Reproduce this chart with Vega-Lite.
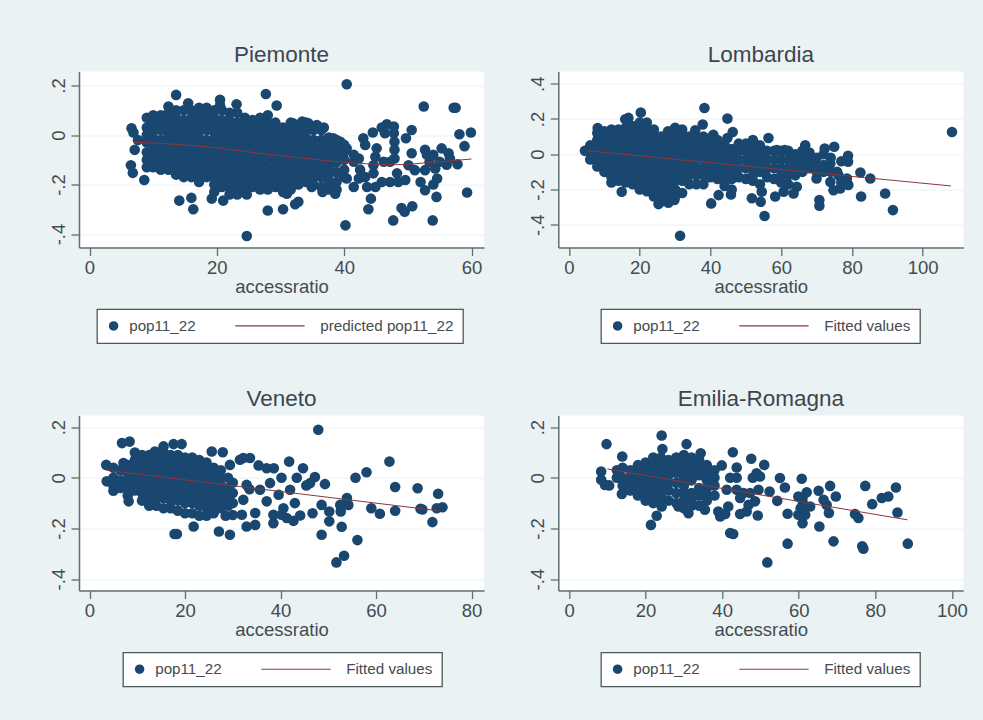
{"$schema":"https://vega.github.io/schema/vega-lite/v6.json","background":"#eaf2f3","padding":{"left":49,"top":43.5,"right":15,"bottom":33.5},"bounds":"flush",
"config":{"font":"Liberation Sans","view":{"fill":"white","stroke":null},"axis":{"grid":true,"gridColor":"#eaf2f3","gridWidth":1,"domainColor":"#5f6f6f","domainWidth":1.5,"tickColor":"#5f6f6f","tickWidth":1.3,"tickSize":8,"labelColor":"#444c50","labelFont":"Liberation Sans","labelFontSize":18.5,"labelPadding":3,"titlePadding":0,"titleColor":"#444c50","titleFont":"Liberation Sans","titleFontSize":18.5,"titleFontWeight":"normal"},"title":{"fontSize":22.5,"fontWeight":"normal","color":"#3c4650","font":"Liberation Sans","offset":5.5},"legend":{"orient":"none","direction":"horizontal","columns":2,"title":null,"labelFont":"Liberation Sans","labelFontSize":15.2,"labelColor":"#444c50","fillColor":"white","strokeColor":"#4a5a5a","strokeWidth":1.3,"padding":9,"symbolSize":90,"symbolStrokeWidth":0,"labelOffset":8}},
"columns":2,"spacing":{"row":168,"column":74.3},
"resolve":{"scale":{"color":"independent","shape":"independent"},"legend":{"color":"independent","shape":"independent"}},
"concat":[
{"title":"Piemonte","width":405,"height":176,"data":{"values":[
{"x":40.4,"y":0.205},{"x":13.6,"y":0.162},{"x":27.7,"y":0.166},{"x":29.4,"y":0.119},{"x":15.5,"y":0.128},{"x":20.5,"y":0.142},{"x":20.5,"y":0.12},{"x":23.1,"y":0.124},{"x":12.4,"y":0.115},{"x":6.6,"y":0.027},{"x":6.9,"y":0.01},{"x":6.5,"y":-0.122},{"x":6.8,"y":-0.153},{"x":7.1,"y":-0.06},{"x":7.6,"y":-0.02},{"x":8.6,"y":-0.182},{"x":14.1,"y":-0.265},{"x":16,"y":-0.254},{"x":16.3,"y":-0.3},{"x":19.2,"y":-0.257},{"x":21,"y":-0.265},{"x":24.7,"y":-0.24},{"x":28,"y":-0.305},{"x":30.4,"y":-0.3},{"x":32.3,"y":-0.28},{"x":32.8,"y":-0.27},{"x":24.7,"y":-0.408},{"x":40.2,"y":-0.365},{"x":43.8,"y":-0.3},{"x":44.2,"y":-0.257},{"x":47.7,"y":-0.345},{"x":49,"y":-0.295},{"x":49.5,"y":-0.31},{"x":50.7,"y":-0.288},{"x":53.9,"y":-0.345},{"x":59.3,"y":-0.232},{"x":52.5,"y":0.115},{"x":57.2,"y":0.11},{"x":57.5,"y":0.11},{"x":58.1,"y":0.003},{"x":59.9,"y":0.01},{"x":58.9,"y":-0.045},{"x":50.6,"y":0.02},{"x":49.7,"y":-0.013},{"x":50.6,"y":-0.074},{"x":52.7,"y":-0.06},{"x":53,"y":-0.08},{"x":54,"y":-0.08},{"x":55.3,"y":-0.054},{"x":56.4,"y":-0.074},{"x":56.6,"y":-0.095},{"x":57.8,"y":-0.118},{"x":56.1,"y":-0.12},{"x":55,"y":-0.108},{"x":54.3,"y":-0.135},{"x":54.6,"y":-0.176},{"x":54,"y":-0.2},{"x":54.5,"y":-0.25},{"x":52.7,"y":-0.223},{"x":52,"y":-0.19},{"x":52.7,"y":-0.142},{"x":51.1,"y":-0.142},{"x":50.1,"y":-0.122},{"x":53.4,"y":-0.11},{"x":43,"y":-0.013},{"x":43.3,"y":-0.04},{"x":44.5,"y":0.01},{"x":45.9,"y":0.03},{"x":46.7,"y":0.043},{"x":47.8,"y":0.034},{"x":46.4,"y":0.007},{"x":47.8,"y":0.007},{"x":47.9,"y":-0.027},{"x":47.9,"y":-0.06},{"x":47.9,"y":-0.095},{"x":45.1,"y":-0.054},{"x":44.9,"y":-0.088},{"x":46.2,"y":-0.108},{"x":47.2,"y":-0.108},{"x":44.6,"y":-0.122},{"x":48.3,"y":-0.155},{"x":47.2,"y":-0.19},{"x":48.5,"y":-0.19},{"x":49.6,"y":-0.182},{"x":45.9,"y":-0.19},{"x":44.9,"y":-0.21},{"x":43.6,"y":-0.21},{"x":43.3,"y":-0.17},{"x":44.6,"y":-0.155},{"x":41.5,"y":-0.21},{"x":40.4,"y":-0.176},{"x":42.3,"y":-0.176},{"x":41.5,"y":-0.108},{"x":42.3,"y":-0.095},{"x":42.5,"y":-0.14},{"x":38.3,"y":-0.013},{"x":39.4,"y":-0.027},{"x":40.4,"y":-0.054},{"x":41.5,"y":-0.08},{"x":37.5,"y":-0.013},{"x":35.7,"y":0.04},{"x":36.8,"y":0.03},{"x":32,"y":0.047},{"x":33.4,"y":0.054},{"x":34.4,"y":0.047},{"x":38.6,"y":-0.237},{"x":36.6,"y":-0.23},{"x":34.9,"y":-0.21},{"x":31,"y":-0.237},
{"x":9,"y":0.07},{"x":9,"y":0.03},{"x":9,"y":0},{"x":9,"y":-0.03},{"x":9,"y":-0.07},{"x":9,"y":-0.1},{"x":9,"y":-0.13},
{"x":10,"y":0.08},{"x":10,"y":0.05},{"x":10,"y":0.02},{"x":10,"y":-0.01},{"x":10,"y":-0.04},{"x":10,"y":-0.07},{"x":10,"y":-0.1},{"x":10,"y":-0.13},
{"x":11.2,"y":0.08},{"x":11.2,"y":0.05},{"x":11.2,"y":0.02},{"x":11.2,"y":-0.02},{"x":11.2,"y":-0.05},{"x":11.2,"y":-0.08},{"x":11.2,"y":-0.11},{"x":11.2,"y":-0.14},
{"x":12.4,"y":0.09},{"x":12.4,"y":0.06},{"x":12.4,"y":0.03},{"x":12.4,"y":0},{"x":12.4,"y":-0.03},{"x":12.4,"y":-0.06},{"x":12.4,"y":-0.09},{"x":12.4,"y":-0.12},{"x":12.4,"y":-0.14},
{"x":13.6,"y":0.1},{"x":13.6,"y":0.07},{"x":13.6,"y":0.04},{"x":13.6,"y":0.01},{"x":13.6,"y":-0.02},{"x":13.6,"y":-0.05},{"x":13.6,"y":-0.08},{"x":13.6,"y":-0.11},{"x":13.6,"y":-0.14},{"x":13.6,"y":-0.16},
{"x":14.8,"y":0.1},{"x":14.8,"y":0.06},{"x":14.8,"y":0.03},{"x":14.8,"y":0},{"x":14.8,"y":-0.03},{"x":14.8,"y":-0.06},{"x":14.8,"y":-0.09},{"x":14.8,"y":-0.12},{"x":14.8,"y":-0.15},{"x":14.8,"y":-0.17},
{"x":16,"y":0.1},{"x":16,"y":0.07},{"x":16,"y":0.04},{"x":16,"y":0.01},{"x":16,"y":-0.02},{"x":16,"y":-0.05},{"x":16,"y":-0.08},{"x":16,"y":-0.11},{"x":16,"y":-0.14},{"x":16,"y":-0.17},
{"x":17.2,"y":0.11},{"x":17.2,"y":0.08},{"x":17.2,"y":0.05},{"x":17.2,"y":0.02},{"x":17.2,"y":-0.01},{"x":17.2,"y":-0.04},{"x":17.2,"y":-0.07},{"x":17.2,"y":-0.1},{"x":17.2,"y":-0.13},{"x":17.2,"y":-0.16},{"x":17.2,"y":-0.19},
{"x":18.4,"y":0.11},{"x":18.4,"y":0.08},{"x":18.4,"y":0.05},{"x":18.4,"y":0.02},{"x":18.4,"y":-0.02},{"x":18.4,"y":-0.05},{"x":18.4,"y":-0.08},{"x":18.4,"y":-0.11},{"x":18.4,"y":-0.14},{"x":18.4,"y":-0.17},
{"x":19.6,"y":0.1},{"x":19.6,"y":0.07},{"x":19.6,"y":0.04},{"x":19.6,"y":0.01},{"x":19.6,"y":-0.02},{"x":19.6,"y":-0.05},{"x":19.6,"y":-0.08},{"x":19.6,"y":-0.11},{"x":19.6,"y":-0.14},{"x":19.6,"y":-0.17},{"x":19.6,"y":-0.2},{"x":19.6,"y":-0.23},
{"x":20.8,"y":0.1},{"x":20.8,"y":0.06},{"x":20.8,"y":0.03},{"x":20.8,"y":0},{"x":20.8,"y":-0.03},{"x":20.8,"y":-0.06},{"x":20.8,"y":-0.09},{"x":20.8,"y":-0.12},{"x":20.8,"y":-0.15},{"x":20.8,"y":-0.18},{"x":20.8,"y":-0.21},
{"x":22,"y":0.09},{"x":22,"y":0.06},{"x":22,"y":0.03},{"x":22,"y":0},{"x":22,"y":-0.03},{"x":22,"y":-0.06},{"x":22,"y":-0.09},{"x":22,"y":-0.12},{"x":22,"y":-0.15},{"x":22,"y":-0.18},{"x":22,"y":-0.21},{"x":22,"y":-0.24},
{"x":23.2,"y":0.09},{"x":23.2,"y":0.05},{"x":23.2,"y":0.02},{"x":23.2,"y":-0.01},{"x":23.2,"y":-0.04},{"x":23.2,"y":-0.07},{"x":23.2,"y":-0.1},{"x":23.2,"y":-0.13},{"x":23.2,"y":-0.16},{"x":23.2,"y":-0.19},{"x":23.2,"y":-0.22},{"x":23.2,"y":-0.24},
{"x":24.4,"y":0.07},{"x":24.4,"y":0.04},{"x":24.4,"y":0.01},{"x":24.4,"y":-0.02},{"x":24.4,"y":-0.05},{"x":24.4,"y":-0.08},{"x":24.4,"y":-0.11},{"x":24.4,"y":-0.14},{"x":24.4,"y":-0.17},{"x":24.4,"y":-0.2},{"x":24.4,"y":-0.23},
{"x":25.6,"y":0.06},{"x":25.6,"y":0.03},{"x":25.6,"y":0},{"x":25.6,"y":-0.03},{"x":25.6,"y":-0.06},{"x":25.6,"y":-0.09},{"x":25.6,"y":-0.12},{"x":25.6,"y":-0.15},{"x":25.6,"y":-0.18},{"x":25.6,"y":-0.21},
{"x":26.8,"y":0.07},{"x":26.8,"y":0.04},{"x":26.8,"y":0.01},{"x":26.8,"y":-0.02},{"x":26.8,"y":-0.05},{"x":26.8,"y":-0.08},{"x":26.8,"y":-0.11},{"x":26.8,"y":-0.14},{"x":26.8,"y":-0.17},{"x":26.8,"y":-0.2},{"x":26.8,"y":-0.22},
{"x":28,"y":0.08},{"x":28,"y":0.05},{"x":28,"y":0.02},{"x":28,"y":-0.01},{"x":28,"y":-0.04},{"x":28,"y":-0.07},{"x":28,"y":-0.1},{"x":28,"y":-0.13},{"x":28,"y":-0.16},{"x":28,"y":-0.19},{"x":28,"y":-0.22},
{"x":29.2,"y":0.05},{"x":29.2,"y":0.02},{"x":29.2,"y":-0.01},{"x":29.2,"y":-0.04},{"x":29.2,"y":-0.07},{"x":29.2,"y":-0.1},{"x":29.2,"y":-0.13},{"x":29.2,"y":-0.16},{"x":29.2,"y":-0.19},{"x":29.2,"y":-0.21},
{"x":30.4,"y":0.03},{"x":30.4,"y":0},{"x":30.4,"y":-0.03},{"x":30.4,"y":-0.06},{"x":30.4,"y":-0.09},{"x":30.4,"y":-0.12},{"x":30.4,"y":-0.15},{"x":30.4,"y":-0.18},{"x":30.4,"y":-0.21},{"x":30.4,"y":-0.23},
{"x":31.6,"y":0.05},{"x":31.6,"y":0.02},{"x":31.6,"y":-0.01},{"x":31.6,"y":-0.04},{"x":31.6,"y":-0.07},{"x":31.6,"y":-0.1},{"x":31.6,"y":-0.13},{"x":31.6,"y":-0.16},{"x":31.6,"y":-0.19},{"x":31.6,"y":-0.22},
{"x":32.8,"y":0.04},{"x":32.8,"y":0.01},{"x":32.8,"y":-0.02},{"x":32.8,"y":-0.05},{"x":32.8,"y":-0.08},{"x":32.8,"y":-0.11},{"x":32.8,"y":-0.14},{"x":32.8,"y":-0.17},{"x":32.8,"y":-0.2},
{"x":34,"y":0.05},{"x":34,"y":0.02},{"x":34,"y":-0.01},{"x":34,"y":-0.04},{"x":34,"y":-0.07},{"x":34,"y":-0.1},{"x":34,"y":-0.13},{"x":34,"y":-0.16},{"x":34,"y":-0.19},
{"x":35.2,"y":0.02},{"x":35.2,"y":-0.02},{"x":35.2,"y":-0.05},{"x":35.2,"y":-0.08},{"x":35.2,"y":-0.11},{"x":35.2,"y":-0.14},{"x":35.2,"y":-0.17},{"x":35.2,"y":-0.2},
{"x":36.4,"y":0.02},{"x":36.4,"y":-0.02},{"x":36.4,"y":-0.05},{"x":36.4,"y":-0.08},{"x":36.4,"y":-0.11},{"x":36.4,"y":-0.14},{"x":36.4,"y":-0.17},{"x":36.4,"y":-0.21},
{"x":37.6,"y":-0.01},{"x":37.6,"y":-0.04},{"x":37.6,"y":-0.07},{"x":37.6,"y":-0.1},{"x":37.6,"y":-0.13},{"x":37.6,"y":-0.16},{"x":37.6,"y":-0.19},{"x":37.6,"y":-0.22},
{"x":38.8,"y":-0.02},{"x":38.8,"y":-0.05},{"x":38.8,"y":-0.08},{"x":38.8,"y":-0.11},{"x":38.8,"y":-0.15},{"x":38.8,"y":-0.19},{"x":38.8,"y":-0.22},
{"x":40,"y":-0.04},{"x":40,"y":-0.07},{"x":40,"y":-0.1},{"x":40,"y":-0.14},{"x":40,"y":-0.17}
]},"layer":[
{"mark":{"type":"point","filled":true,"size":112,"opacity":1},"encoding":{"x":{"field":"x","type":"quantitative","title":"accessratio","scale":{"domain":[-1.65,61.96],"nice":false,"zero":false},"axis":{"values":[0,20,40,60],"grid":false}},"y":{"field":"y","type":"quantitative","title":null,"scale":{"domain":[-0.4545,0.2566],"nice":false,"zero":false},"axis":{"values":[-0.4,-0.2,0,0.2],"format":".1~f","labelAngle":-90,"labelAlign":"center","labelBaseline":"bottom","labelExpr":"replace(replace(datum.label,'0.','.'),'−','-')"}},
"color":{"datum":"pop11_22","scale":{"domain":["pop11_22","predicted pop11_22"],"range":["#1a476f","#90353b"]},"legend":{"legendX":18,"legendY":237.7,"columnPadding":39}},
"shape":{"datum":"pop11_22","scale":{"domain":["pop11_22","predicted pop11_22"],"range":["circle","M-14.6,-0.12L0,-0.12L0,0.12L-14.6,0.12Z"]}}}},
{"data":{"values":[{"x":7,"y":-0.03},{"x":12,"y":-0.035},{"x":20,"y":-0.052},{"x":27,"y":-0.075},{"x":33,"y":-0.092},{"x":40,"y":-0.11},{"x":48,"y":-0.12},{"x":54,"y":-0.11},{"x":60,"y":-0.097}]},"mark":{"type":"line","stroke":"#90353b","strokeWidth":1,"interpolate":"monotone"},"encoding":{"x":{"field":"x","type":"quantitative"},"y":{"field":"y","type":"quantitative"}}}]},
{"title":"Lombardia","width":405,"height":176,"data":{"values":[
{"x":31.4,"y":-0.462},{"x":38.3,"y":0.262},{"x":44.8,"y":0.202},{"x":108.3,"y":0.126},{"x":55.3,"y":-0.35},{"x":56.4,"y":0.092},{"x":46.3,"y":0.126},{"x":44.8,"y":0.092},{"x":37.8,"y":0.168},{"x":35.7,"y":0.136},{"x":40.8,"y":0.11},{"x":20.3,"y":0.236},{"x":15.9,"y":0.198},{"x":16.8,"y":0.206},{"x":8.1,"y":0.149},{"x":14.9,"y":-0.213},{"x":4.5,"y":0.019},{"x":66.8,"y":0.051},{"x":75,"y":0.042},{"x":72.3,"y":0.032},{"x":78.9,"y":-0.009},{"x":78.9,"y":-0.043},{"x":82.4,"y":-0.104},{"x":85.2,"y":-0.138},{"x":82.6,"y":-0.24},{"x":89.4,"y":-0.223},{"x":91.6,"y":-0.317},{"x":70.8,"y":-0.26},{"x":70.8,"y":-0.292},{"x":40.2,"y":-0.279},{"x":42.3,"y":-0.232},{"x":45.8,"y":-0.228},{"x":25.3,"y":-0.283},{"x":28.1,"y":-0.275},{"x":29.8,"y":-0.26},{"x":51.7,"y":-0.25},{"x":54.2,"y":-0.27},{"x":54.5,"y":-0.213},{"x":58.3,"y":-0.24},{"x":60.7,"y":-0.213},{"x":63.5,"y":-0.223},{"x":64.4,"y":-0.185},{"x":74.8,"y":-0.204},{"x":76.7,"y":-0.194},{"x":79,"y":-0.175},{"x":73.9,"y":-0.157},{"x":76.2,"y":-0.119},{"x":78.6,"y":-0.138},{"x":70,"y":-0.138},{"x":72,"y":-0.062},{"x":73.9,"y":-0.053},{"x":75.8,"y":-0.1},{"x":68.2,"y":-0.043},{"x":66.3,"y":-0.025},{"x":64.4,"y":-0.062},{"x":61,"y":0.023},{"x":58.8,"y":0.023},
{"x":6,"y":0.05},{"x":6,"y":0.01},{"x":6,"y":-0.03},
{"x":8,"y":0.12},{"x":8,"y":0.08},{"x":8,"y":0.04},{"x":8,"y":0},{"x":8,"y":-0.04},{"x":8,"y":-0.07},
{"x":10,"y":0.13},{"x":10,"y":0.09},{"x":10,"y":0.05},{"x":10,"y":0.01},{"x":10,"y":-0.03},{"x":10,"y":-0.07},{"x":10,"y":-0.1},
{"x":12,"y":0.14},{"x":12,"y":0.1},{"x":12,"y":0.06},{"x":12,"y":0.02},{"x":12,"y":-0.02},{"x":12,"y":-0.06},{"x":12,"y":-0.1},{"x":12,"y":-0.13},{"x":12,"y":-0.16},
{"x":14,"y":0.14},{"x":14,"y":0.1},{"x":14,"y":0.06},{"x":14,"y":0.02},{"x":14,"y":-0.03},{"x":14,"y":-0.07},{"x":14,"y":-0.11},{"x":14,"y":-0.15},
{"x":16,"y":0.15},{"x":16,"y":0.11},{"x":16,"y":0.07},{"x":16,"y":0.03},{"x":16,"y":-0.01},{"x":16,"y":-0.05},{"x":16,"y":-0.09},{"x":16,"y":-0.13},{"x":16,"y":-0.16},
{"x":18,"y":0.16},{"x":18,"y":0.12},{"x":18,"y":0.08},{"x":18,"y":0.04},{"x":18,"y":-0.01},{"x":18,"y":-0.05},{"x":18,"y":-0.09},{"x":18,"y":-0.13},{"x":18,"y":-0.17},
{"x":20,"y":0.18},{"x":20,"y":0.14},{"x":20,"y":0.1},{"x":20,"y":0.06},{"x":20,"y":0.01},{"x":20,"y":-0.03},{"x":20,"y":-0.07},{"x":20,"y":-0.11},{"x":20,"y":-0.15},{"x":20,"y":-0.2},
{"x":22,"y":0.18},{"x":22,"y":0.13},{"x":22,"y":0.09},{"x":22,"y":0.04},{"x":22,"y":0},{"x":22,"y":-0.04},{"x":22,"y":-0.08},{"x":22,"y":-0.12},{"x":22,"y":-0.17},{"x":22,"y":-0.21},
{"x":24,"y":0.14},{"x":24,"y":0.1},{"x":24,"y":0.06},{"x":24,"y":0.02},{"x":24,"y":-0.02},{"x":24,"y":-0.06},{"x":24,"y":-0.1},{"x":24,"y":-0.15},{"x":24,"y":-0.19},{"x":24,"y":-0.24},
{"x":26,"y":0.1},{"x":26,"y":0.06},{"x":26,"y":0.02},{"x":26,"y":-0.02},{"x":26,"y":-0.07},{"x":26,"y":-0.11},{"x":26,"y":-0.15},{"x":26,"y":-0.19},{"x":26,"y":-0.23},{"x":26,"y":-0.27},
{"x":28,"y":0.13},{"x":28,"y":0.09},{"x":28,"y":0.05},{"x":28,"y":0},{"x":28,"y":-0.04},{"x":28,"y":-0.08},{"x":28,"y":-0.12},{"x":28,"y":-0.17},{"x":28,"y":-0.21},{"x":28,"y":-0.25},
{"x":30,"y":0.15},{"x":30,"y":0.1},{"x":30,"y":0.06},{"x":30,"y":0.02},{"x":30,"y":-0.02},{"x":30,"y":-0.06},{"x":30,"y":-0.11},{"x":30,"y":-0.15},{"x":30,"y":-0.2},{"x":30,"y":-0.24},
{"x":32,"y":0.14},{"x":32,"y":0.1},{"x":32,"y":0.05},{"x":32,"y":0.01},{"x":32,"y":-0.03},{"x":32,"y":-0.07},{"x":32,"y":-0.11},{"x":32,"y":-0.15},{"x":32,"y":-0.22},
{"x":34,"y":0.1},{"x":34,"y":0.06},{"x":34,"y":0.01},{"x":34,"y":-0.03},{"x":34,"y":-0.07},{"x":34,"y":-0.12},{"x":34,"y":-0.17},
{"x":36,"y":0.1},{"x":36,"y":0.05},{"x":36,"y":0.01},{"x":36,"y":-0.03},{"x":36,"y":-0.08},{"x":36,"y":-0.12},{"x":36,"y":-0.17},
{"x":38,"y":0.1},{"x":38,"y":0.06},{"x":38,"y":0.02},{"x":38,"y":-0.03},{"x":38,"y":-0.08},{"x":38,"y":-0.12},{"x":38,"y":-0.17},
{"x":40,"y":0.09},{"x":40,"y":0.04},{"x":40,"y":0},{"x":40,"y":-0.04},{"x":40,"y":-0.08},{"x":40,"y":-0.13},
{"x":42,"y":0.08},{"x":42,"y":0.03},{"x":42,"y":-0.01},{"x":42,"y":-0.06},{"x":42,"y":-0.1},{"x":42,"y":-0.14},
{"x":44,"y":0.05},{"x":44,"y":0.01},{"x":44,"y":-0.04},{"x":44,"y":-0.08},{"x":44,"y":-0.13},{"x":44,"y":-0.18},
{"x":46,"y":0.03},{"x":46,"y":-0.01},{"x":46,"y":-0.05},{"x":46,"y":-0.1},{"x":46,"y":-0.14},{"x":46,"y":-0.2},
{"x":48,"y":0.06},{"x":48,"y":0.02},{"x":48,"y":-0.03},{"x":48,"y":-0.08},{"x":48,"y":-0.13},
{"x":50,"y":0.06},{"x":50,"y":0.02},{"x":50,"y":-0.03},{"x":50,"y":-0.08},{"x":50,"y":-0.14},
{"x":52,"y":0.08},{"x":52,"y":0.03},{"x":52,"y":-0.02},{"x":52,"y":-0.07},{"x":52,"y":-0.12},{"x":52,"y":-0.15},
{"x":54,"y":0.05},{"x":54,"y":0},{"x":54,"y":-0.05},{"x":54,"y":-0.1},{"x":54,"y":-0.17},
{"x":56,"y":0.02},{"x":56,"y":-0.03},{"x":56,"y":-0.08},{"x":56,"y":-0.13},
{"x":58,"y":0.02},{"x":58,"y":-0.03},{"x":58,"y":-0.08},{"x":58,"y":-0.14},
{"x":60,"y":0.02},{"x":60,"y":-0.03},{"x":60,"y":-0.08},{"x":60,"y":-0.12},{"x":60,"y":-0.16},
{"x":62,"y":0.02},{"x":62,"y":-0.03},{"x":62,"y":-0.08},{"x":62,"y":-0.12},{"x":62,"y":-0.17},
{"x":64,"y":0},{"x":64,"y":-0.05},{"x":64,"y":-0.09},{"x":64,"y":-0.12},
{"x":66,"y":0.02},{"x":66,"y":-0.03},{"x":66,"y":-0.07},{"x":66,"y":-0.1},
{"x":68,"y":0.01},{"x":68,"y":-0.04},{"x":68,"y":-0.08},
{"x":70,"y":-0.02},{"x":70,"y":-0.06},{"x":70,"y":-0.1},
{"x":72,"y":0},{"x":72,"y":-0.1},{"x":74,"y":-0.02},{"x":74,"y":-0.1},{"x":77,"y":-0.04},{"x":77,"y":-0.16}
]},"layer":[
{"mark":{"type":"point","filled":true,"size":112,"opacity":1},"encoding":{"x":{"field":"x","type":"quantitative","title":"accessratio","scale":{"domain":[-3.03,111.5],"nice":false,"zero":false},"axis":{"values":[0,20,40,60,80,100],"grid":false}},"y":{"field":"y","type":"quantitative","title":null,"scale":{"domain":[-0.529,0.469],"nice":false,"zero":false},"axis":{"values":[-0.4,-0.2,0,0.2,0.4],"format":".1~f","labelAngle":-90,"labelAlign":"center","labelBaseline":"bottom","labelExpr":"replace(replace(datum.label,'0.','.'),'−','-')"}},
"color":{"datum":"pop11_22","scale":{"domain":["pop11_22","Fitted values"],"range":["#1a476f","#90353b"]},"legend":{"legendX":42.7,"legendY":237.7,"columnPadding":39}},
"shape":{"datum":"pop11_22","scale":{"domain":["pop11_22","Fitted values"],"range":["circle","M-14.6,-0.12L0,-0.12L0,0.12L-14.6,0.12Z"]}}}},
{"data":{"values":[{"x":5,"y":0.02},{"x":108,"y":-0.18}]},"mark":{"type":"line","stroke":"#90353b","strokeWidth":1},"encoding":{"x":{"field":"x","type":"quantitative"},"y":{"field":"y","type":"quantitative"}}}]},
{"title":"Veneto","width":405,"height":175,"data":{"values":[
{"x":47.9,"y":0.19},{"x":62.8,"y":0.064},{"x":58,"y":0.022},{"x":55.7,"y":0},{"x":64,"y":-0.036},{"x":68.7,"y":-0.041},{"x":73,"y":-0.063},{"x":59,"y":-0.12},{"x":60.8,"y":-0.142},{"x":64,"y":-0.13},{"x":69.3,"y":-0.122},{"x":69.7,"y":-0.125},{"x":72.7,"y":-0.12},{"x":73.9,"y":-0.116},{"x":71.8,"y":-0.175},{"x":56.1,"y":-0.246},{"x":53.3,"y":-0.308},{"x":51.7,"y":-0.334},{"x":52.8,"y":-0.193},{"x":48.6,"y":-0.225},{"x":50.2,"y":-0.172},{"x":50.2,"y":-0.133},{"x":48.6,"y":-0.107},{"x":49.3,"y":-0.025},{"x":47.2,"y":0.003},{"x":46.2,"y":-0.021},{"x":45.4,"y":-0.03},{"x":44.7,"y":0.038},{"x":43.4,"y":0},{"x":41.8,"y":0.064},{"x":53.9,"y":-0.08},{"x":54.2,"y":-0.107},{"x":52.5,"y":-0.107},{"x":52.6,"y":-0.133},{"x":46.7,"y":-0.14},{"x":44.1,"y":-0.149},{"x":42.7,"y":-0.17},{"x":41.3,"y":-0.159},{"x":43,"y":-0.1},{"x":42,"y":-0.047},{"x":40.2,"y":0},{"x":38.6,"y":0.038},{"x":37.1,"y":0.038},{"x":35.4,"y":0.049},{"x":40.6,"y":-0.12},{"x":38.5,"y":-0.179},{"x":38.5,"y":-0.146},{"x":40.2,"y":-0.146},{"x":39.6,"y":-0.067},{"x":37.1,"y":-0.093},{"x":37.8,"y":-0.021},{"x":35.7,"y":-0.047},{"x":34.7,"y":-0.139},{"x":34.7,"y":-0.186},{"x":32.9,"y":-0.192},{"x":31.9,"y":-0.146},{"x":32.2,"y":-0.087},{"x":32.9,"y":-0.028},{"x":32.2,"y":0.078},{"x":33.6,"y":0.078},{"x":31.5,"y":0.071},{"x":29.4,"y":-0.225},{"x":27.1,"y":-0.212},{"x":21.8,"y":-0.192},{"x":17.8,"y":-0.222},{"x":18.3,"y":-0.222},{"x":30,"y":-0.147},{"x":25.6,"y":0.104},{"x":27.9,"y":0.101},{"x":17.6,"y":0.133},{"x":19.3,"y":0.133},{"x":15.5,"y":0.124},{"x":13.7,"y":0.104},{"x":6.8,"y":0.137},{"x":8.4,"y":0.143},{"x":3.5,"y":0.051},{"x":3.6,"y":-0.014},{"x":5,"y":-0.051},{"x":8.2,"y":-0.093},{"x":7.1,"y":0.058},{"x":29.4,"y":0.051},{"x":30,"y":-0.02},{"x":30,"y":-0.06},{"x":30,"y":-0.1},{"x":33.5,"y":-0.045},{"x":28.5,"y":-0.15},
{"x":5,"y":0.04},{"x":5,"y":0},{"x":5,"y":-0.03},{"x":6.5,"y":0.03},{"x":6.5,"y":-0.01},{"x":6.5,"y":-0.04},
{"x":8,"y":0.05},{"x":8,"y":0.02},{"x":8,"y":-0.01},{"x":8,"y":-0.04},{"x":8,"y":-0.07},
{"x":9.5,"y":0.1},{"x":9.5,"y":0.07},{"x":9.5,"y":0.04},{"x":9.5,"y":0.01},{"x":9.5,"y":-0.02},{"x":9.5,"y":-0.05},
{"x":11,"y":0.09},{"x":11,"y":0.06},{"x":11,"y":0.03},{"x":11,"y":0},{"x":11,"y":-0.03},{"x":11,"y":-0.06},{"x":11,"y":-0.09},
{"x":12.5,"y":0.09},{"x":12.5,"y":0.06},{"x":12.5,"y":0.03},{"x":12.5,"y":0},{"x":12.5,"y":-0.03},{"x":12.5,"y":-0.06},{"x":12.5,"y":-0.09},{"x":12.5,"y":-0.11},
{"x":14,"y":0.1},{"x":14,"y":0.07},{"x":14,"y":0.04},{"x":14,"y":0.01},{"x":14,"y":-0.02},{"x":14,"y":-0.05},{"x":14,"y":-0.08},{"x":14,"y":-0.11},
{"x":15.5,"y":0.1},{"x":15.5,"y":0.07},{"x":15.5,"y":0.04},{"x":15.5,"y":0.01},{"x":15.5,"y":-0.02},{"x":15.5,"y":-0.05},{"x":15.5,"y":-0.08},{"x":15.5,"y":-0.12},
{"x":17,"y":0.09},{"x":17,"y":0.06},{"x":17,"y":0.03},{"x":17,"y":0},{"x":17,"y":-0.03},{"x":17,"y":-0.06},{"x":17,"y":-0.09},{"x":17,"y":-0.12},
{"x":18.5,"y":0.09},{"x":18.5,"y":0.06},{"x":18.5,"y":0.03},{"x":18.5,"y":0},{"x":18.5,"y":-0.03},{"x":18.5,"y":-0.06},{"x":18.5,"y":-0.09},{"x":18.5,"y":-0.13},
{"x":20,"y":0.08},{"x":20,"y":0.05},{"x":20,"y":0.02},{"x":20,"y":-0.01},{"x":20,"y":-0.04},{"x":20,"y":-0.07},{"x":20,"y":-0.1},{"x":20,"y":-0.14},
{"x":21.5,"y":0.08},{"x":21.5,"y":0.05},{"x":21.5,"y":0.02},{"x":21.5,"y":-0.01},{"x":21.5,"y":-0.04},{"x":21.5,"y":-0.07},{"x":21.5,"y":-0.1},{"x":21.5,"y":-0.14},
{"x":23,"y":0.07},{"x":23,"y":0.04},{"x":23,"y":0.01},{"x":23,"y":-0.02},{"x":23,"y":-0.05},{"x":23,"y":-0.08},{"x":23,"y":-0.11},{"x":23,"y":-0.15},
{"x":24.5,"y":0.06},{"x":24.5,"y":0.03},{"x":24.5,"y":0},{"x":24.5,"y":-0.03},{"x":24.5,"y":-0.06},{"x":24.5,"y":-0.09},{"x":24.5,"y":-0.12},{"x":24.5,"y":-0.15},
{"x":26,"y":0.04},{"x":26,"y":0.01},{"x":26,"y":-0.02},{"x":26,"y":-0.05},{"x":26,"y":-0.08},{"x":26,"y":-0.11},{"x":26,"y":-0.14},
{"x":27.5,"y":0.03},{"x":27.5,"y":0},{"x":27.5,"y":-0.03},{"x":27.5,"y":-0.06},{"x":27.5,"y":-0.09},{"x":27.5,"y":-0.12},
{"x":29,"y":0},{"x":29,"y":-0.04},{"x":29,"y":-0.08},{"x":29,"y":-0.11}
]},"layer":[
{"mark":{"type":"point","filled":true,"size":112,"opacity":1},"encoding":{"x":{"field":"x","type":"quantitative","title":"accessratio","scale":{"domain":[-2.2,82.6],"nice":false,"zero":false},"axis":{"values":[0,20,40,60,80],"grid":false}},"y":{"field":"y","type":"quantitative","title":null,"scale":{"domain":[-0.445,0.246],"nice":false,"zero":false},"axis":{"values":[-0.4,-0.2,0,0.2],"format":".1~f","labelAngle":-90,"labelAlign":"center","labelBaseline":"bottom","labelExpr":"replace(replace(datum.label,'0.','.'),'−','-')"}},
"color":{"datum":"pop11_22","scale":{"domain":["pop11_22","Fitted values"],"range":["#1a476f","#90353b"]},"legend":{"legendX":44,"legendY":237,"columnPadding":39}},
"shape":{"datum":"pop11_22","scale":{"domain":["pop11_22","Fitted values"],"range":["circle","M-14.6,-0.12L0,-0.12L0,0.12L-14.6,0.12Z"]}}}},
{"data":{"values":[{"x":3.5,"y":0.03},{"x":73,"y":-0.13}]},"mark":{"type":"line","stroke":"#90353b","strokeWidth":1},"encoding":{"x":{"field":"x","type":"quantitative"},"y":{"field":"y","type":"quantitative"}}}]},
{"title":"Emilia-Romagna","width":405,"height":175,"data":{"values":[
{"x":9.8,"y":0.133},{"x":13.9,"y":0.084},{"x":8.4,"y":0.025},{"x":8.4,"y":-0.008},{"x":9.4,"y":-0.028},{"x":10.5,"y":-0.03},{"x":13.8,"y":-0.064},{"x":24.2,"y":0.167},{"x":24.4,"y":0.114},{"x":30.7,"y":0.133},{"x":34.4,"y":0.097},{"x":42.8,"y":0.101},{"x":47.6,"y":0.075},{"x":51,"y":0.051},{"x":43.8,"y":0.041},{"x":39.9,"y":0.049},{"x":49,"y":0.018},{"x":49.9,"y":0.005},{"x":48,"y":0},{"x":55.1,"y":-0.001},{"x":56.4,"y":-0.038},{"x":60.8,"y":-0.004},{"x":68.2,"y":-0.032},{"x":69.7,"y":-0.074},{"x":77.4,"y":-0.032},{"x":85.4,"y":-0.038},{"x":83.4,"y":-0.074},{"x":81.7,"y":-0.08},{"x":79.2,"y":-0.104},{"x":85.8,"y":-0.137},{"x":75.6,"y":-0.159},{"x":74.7,"y":-0.143},{"x":67.9,"y":-0.139},{"x":67.3,"y":-0.107},{"x":66.5,"y":-0.087},{"x":65.2,"y":-0.051},{"x":62.1,"y":-0.057},{"x":59.9,"y":-0.074},{"x":61.1,"y":-0.1},{"x":63,"y":-0.113},{"x":61.7,"y":-0.146},{"x":59.9,"y":-0.146},{"x":61,"y":-0.179},{"x":57.1,"y":-0.142},{"x":54.4,"y":-0.091},{"x":52.4,"y":-0.054},{"x":65.4,"y":-0.192},{"x":69.1,"y":-0.251},{"x":57.1,"y":-0.26},{"x":76.9,"y":-0.28},{"x":76.6,"y":-0.27},{"x":88.5,"y":-0.26},{"x":51.8,"y":-0.334},{"x":42.1,"y":-0.218},{"x":42.9,"y":-0.222},{"x":22.9,"y":-0.15},{"x":21.4,"y":-0.186},{"x":49.3,"y":-0.149},{"x":46.4,"y":-0.133},{"x":44.7,"y":-0.143},{"x":39.5,"y":-0.153},{"x":41.6,"y":-0.113},{"x":39,"y":-0.133},{"x":40.8,"y":-0.143},{"x":46.9,"y":-0.107},{"x":48.6,"y":-0.093},{"x":44.7,"y":-0.08},{"x":45.6,"y":-0.06},{"x":43.8,"y":-0.047},{"x":41.2,"y":-0.047},{"x":43.8,"y":0},{"x":42.1,"y":0},{"x":49.5,"y":-0.047},{"x":47.3,"y":-0.06},{"x":35.5,"y":-0.126},{"x":31.2,"y":-0.14},{"x":28.6,"y":-0.113},{"x":24.2,"y":-0.113},{"x":60.5,"y":-0.12},{"x":61,"y":-0.08},
{"x":12.5,"y":0.03},{"x":12.5,"y":0},{"x":14,"y":0.04},{"x":14,"y":0},{"x":14,"y":-0.03},
{"x":16,"y":0.03},{"x":16,"y":0},{"x":16,"y":-0.03},{"x":16,"y":-0.05},
{"x":18,"y":0.05},{"x":18,"y":0.02},{"x":18,"y":-0.01},{"x":18,"y":-0.04},{"x":18,"y":-0.07},
{"x":20,"y":0.06},{"x":20,"y":0.03},{"x":20,"y":0},{"x":20,"y":-0.03},{"x":20,"y":-0.06},{"x":20,"y":-0.09},
{"x":22,"y":0.08},{"x":22,"y":0.05},{"x":22,"y":0.02},{"x":22,"y":-0.01},{"x":22,"y":-0.04},{"x":22,"y":-0.07},{"x":22,"y":-0.1},
{"x":24,"y":0.08},{"x":24,"y":0.05},{"x":24,"y":0.02},{"x":24,"y":-0.01},{"x":24,"y":-0.04},{"x":24,"y":-0.07},{"x":24,"y":-0.1},
{"x":26,"y":0.07},{"x":26,"y":0.04},{"x":26,"y":0.01},{"x":26,"y":-0.02},{"x":26,"y":-0.05},{"x":26,"y":-0.09},
{"x":28,"y":0.08},{"x":28,"y":0.05},{"x":28,"y":0.02},{"x":28,"y":-0.02},{"x":28,"y":-0.06},{"x":28,"y":-0.1},
{"x":30,"y":0.09},{"x":30,"y":0.06},{"x":30,"y":0.03},{"x":30,"y":0},{"x":30,"y":-0.03},{"x":30,"y":-0.06},{"x":30,"y":-0.09},{"x":30,"y":-0.12},
{"x":32,"y":0.08},{"x":32,"y":0.05},{"x":32,"y":0.02},{"x":32,"y":-0.01},{"x":32,"y":-0.06},{"x":32,"y":-0.09},{"x":32,"y":-0.11},
{"x":34,"y":0.07},{"x":34,"y":0.04},{"x":34,"y":0.01},{"x":34,"y":-0.04},{"x":34,"y":-0.07},{"x":34,"y":-0.11},
{"x":36,"y":0.05},{"x":36,"y":0.02},{"x":36,"y":-0.01},{"x":36,"y":-0.04},{"x":36,"y":-0.07},{"x":36,"y":-0.09},
{"x":38,"y":0.03},{"x":38,"y":0},{"x":38,"y":-0.03},{"x":38,"y":-0.07}
]},"layer":[
{"mark":{"type":"point","filled":true,"size":112,"opacity":1},"encoding":{"x":{"field":"x","type":"quantitative","title":"accessratio","scale":{"domain":[-2.8,103],"nice":false,"zero":false},"axis":{"values":[0,20,40,60,80,100],"grid":false}},"y":{"field":"y","type":"quantitative","title":null,"scale":{"domain":[-0.445,0.246],"nice":false,"zero":false},"axis":{"values":[-0.4,-0.2,0,0.2],"format":".1~f","labelAngle":-90,"labelAlign":"center","labelBaseline":"bottom","labelExpr":"replace(replace(datum.label,'0.','.'),'−','-')"}},
"color":{"datum":"pop11_22","scale":{"domain":["pop11_22","Fitted values"],"range":["#1a476f","#90353b"]},"legend":{"legendX":42.7,"legendY":237,"columnPadding":39}},
"shape":{"datum":"pop11_22","scale":{"domain":["pop11_22","Fitted values"],"range":["circle","M-14.6,-0.12L0,-0.12L0,0.12L-14.6,0.12Z"]}}}},
{"data":{"values":[{"x":10,"y":0.035},{"x":88.4,"y":-0.166}]},"mark":{"type":"line","stroke":"#90353b","strokeWidth":1},"encoding":{"x":{"field":"x","type":"quantitative"},"y":{"field":"y","type":"quantitative"}}}]}
]}
